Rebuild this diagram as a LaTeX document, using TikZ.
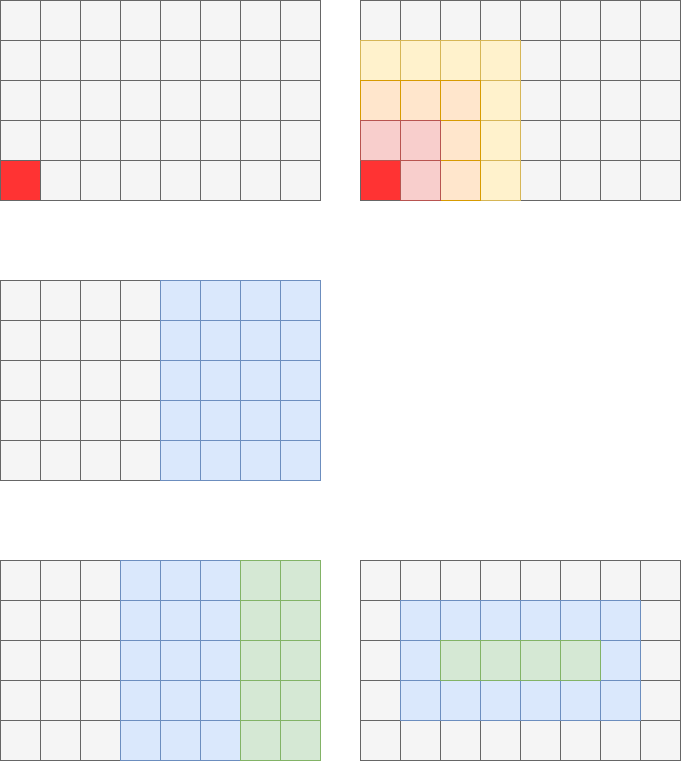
\documentclass[tikz,border=0pt]{standalone}
\definecolor{gfill}{HTML}{F5F5F5}
\definecolor{gline}{HTML}{666666}
\definecolor{yfill}{HTML}{FFF2CC}
\definecolor{yline}{HTML}{D6B656}
\definecolor{ofill}{HTML}{FFE6CC}
\definecolor{oline}{HTML}{D79B00}
\definecolor{pfill}{HTML}{F8CECC}
\definecolor{pline}{HTML}{B85450}
\definecolor{rfill}{HTML}{FF3333}
\definecolor{bfill}{HTML}{DAE8FC}
\definecolor{bline}{HTML}{6C8EBF}
\definecolor{nfill}{HTML}{D5E8D4}
\definecolor{nline}{HTML}{82B366}
\tikzset{
  cellbox/.style={line width=1pt},
  graycell/.style={cellbox, fill=gfill, draw=gline},
  yellowcell/.style={cellbox, fill=yfill, draw=yline},
  orangecell/.style={cellbox, fill=ofill, draw=oline},
  pinkcell/.style={cellbox, fill=pfill, draw=pline},
  redcell/.style={cellbox, fill=rfill, draw=gline},
  bluecell/.style={cellbox, fill=bfill, draw=bline},
  greencell/.style={cellbox, fill=nfill, draw=nline}
}
% #1 style, #2 grid x, #3 grid y, #4 col, #5 row
\def\gcell#1#2#3#4#5{\draw[#1] ({#2+#4*40},{#3+#5*40}) rectangle +(40,40);}
\def\ggrid#1#2{\foreach \cc in {0,...,7}{\foreach \rr in {0,...,4}{\gcell{graycell}{#1}{#2}{\cc}{\rr}}}}
\begin{document}
\begin{tikzpicture}[x=1pt,y=-1pt]
\useasboundingbox (-0.5,-0.5) rectangle (680.5,760.5);
% grid 1
\ggrid{0}{0}
\gcell{redcell}{0}{0}{0}{4}
% grid 2
\ggrid{360}{0}
\foreach \cc in {0,...,3}{\gcell{yellowcell}{360}{0}{\cc}{1}}
\foreach \rr in {2,...,4}{\gcell{yellowcell}{360}{0}{3}{\rr}}
\foreach \cc in {0,...,2}{\gcell{orangecell}{360}{0}{\cc}{2}}
\foreach \rr in {3,4}{\gcell{orangecell}{360}{0}{2}{\rr}}
\gcell{redcell}{360}{0}{0}{4}
\foreach \cc in {0,1}{\gcell{pinkcell}{360}{0}{\cc}{3}}
\gcell{pinkcell}{360}{0}{1}{4}
% grid 3
\ggrid{0}{280}
\foreach \cc in {4,...,7}{\foreach \rr in {0,...,4}{\gcell{bluecell}{0}{280}{\cc}{\rr}}}
% grid 4
\ggrid{0}{560}
\foreach \cc in {3,...,5}{\foreach \rr in {0,...,4}{\gcell{bluecell}{0}{560}{\cc}{\rr}}}
\foreach \cc in {6,7}{\foreach \rr in {0,...,4}{\gcell{greencell}{0}{560}{\cc}{\rr}}}
% grid 5
\ggrid{360}{560}
\foreach \cc in {1,...,6}{\foreach \rr in {1,...,3}{\gcell{bluecell}{360}{560}{\cc}{\rr}}}
\foreach \cc in {2,...,5}{\gcell{greencell}{360}{560}{\cc}{2}}
\end{tikzpicture}
\end{document}
